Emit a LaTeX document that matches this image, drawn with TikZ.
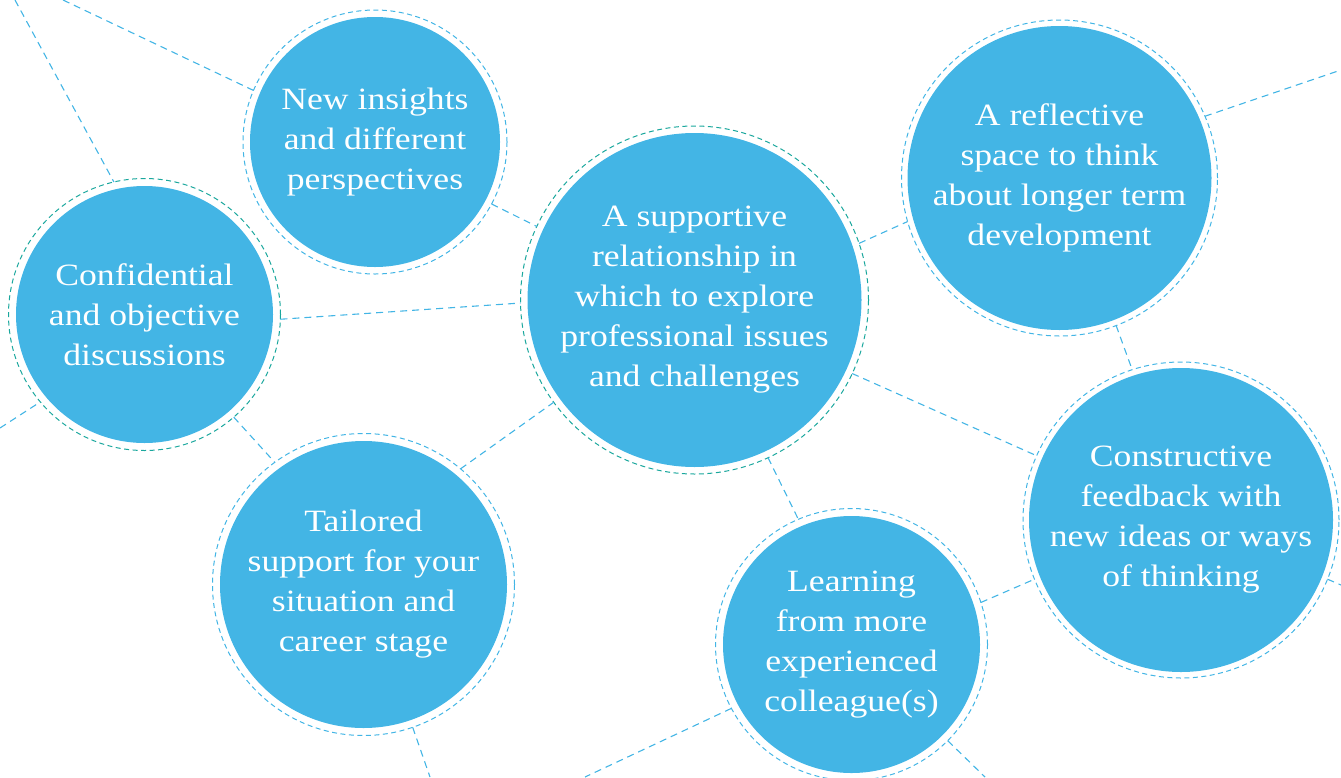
\documentclass[tikz,border=0pt]{standalone}
\usepackage{fontspec}
\setmainfont{Liberation Serif}[FakeStretch=1.15]
\definecolor{bubblefill}{HTML}{43B5E5}
\definecolor{ringblue}{HTML}{43B5E5}
\definecolor{ringteal}{HTML}{1AA79D}
\begin{document}
\begin{tikzpicture}[x=1pt,y=-1pt,
  bubble/.style n args={3}{circle, inner sep=0pt, outer sep=0pt,
    minimum size=#1, draw=#3, line width=1pt,
    dash pattern=on 5pt off 3.5pt, text=white, align=center,
    font=\fontsize{31}{40}\selectfont,
    path picture={\fill[bubblefill] (path picture bounding box.center) circle[radius=#2];}},
  link/.style={draw=ringblue, line width=1.1pt, dash pattern=on 7pt off 5pt}]
\useasboundingbox (0,0) rectangle (1341,777);

% bubbles: diameter of dashed ring, radius of filled disc, ring colour
\node[bubble={264pt}{125pt}{ringblue}] (NI) at (375,142) {New insights\\and different\\perspectives};
\node[bubble={272pt}{128.5pt}{ringteal}] (CO) at (144.5,314.5) {Confidential\\and objective\\discussions};
\node[bubble={348pt}{167pt}{ringteal}] (CE) at (694.5,300) {A supportive\\relationship in\\which to explore\\professional issues\\and challenges};
\node[bubble={316pt}{152pt}{ringblue}] (RE) at (1059.5,178) {A reflective\\space to think\\about longer term\\development};
\node[bubble={316pt}{152pt}{ringblue}] (CF) at (1181,520) {Constructive\\feedback with\\new ideas or ways\\of thinking};
\node[bubble={302pt}{143.5pt}{ringblue}] (TA) at (363.5,584.5) {Tailored\\support for your\\situation and\\career stage};
\node[bubble={272pt}{128.5pt}{ringblue}] (LE) at (851.5,644.5) {Learning\\from more\\experienced\\colleague(s)};

% loose ends running off the edges
\coordinate (e1) at (15,0);
\coordinate (e2) at (63,0);
\coordinate (e3) at (0,428);
\coordinate (e4) at (430,777);
\coordinate (e5) at (1341,70);
\coordinate (e6) at (1341,585);
\coordinate (e7) at (585,777);
\coordinate (e8) at (985,777);

% connectors
\draw[link] (e1) -- (CO.103.8);
\draw[link] (e2) -- (NI.157.7);
\draw[link] (CO.-2.3) -- (CE.181);
\draw[link] (NI.-28.8) -- (CE.155.7);
\draw[link] (e3) -- (CO.220.9);
\draw[link] (CO.-49.3) -- (TA.126.5);
\draw[link] (TA.50.4) -- (CE.216.2);
\draw[link] (TA.-71.2) -- (e4);
\draw[link] (CE.-65.9) -- (LE.113.6);
\draw[link] (CE.19) -- (RE.196.9);
\draw[link] (CE.-25.9) -- (CF.156);
\draw[link] (RE.23.1) -- (e5);
\draw[link] (RE.-69) -- (CF.108);
\draw[link] (CF.-22.6) -- (e6);
\draw[link] (LE.18.7) -- (CF.202.3);
\draw[link] (LE.208.3) -- (e7);
\draw[link] (LE.-45.6) -- (e8);
\end{tikzpicture}
\end{document}
